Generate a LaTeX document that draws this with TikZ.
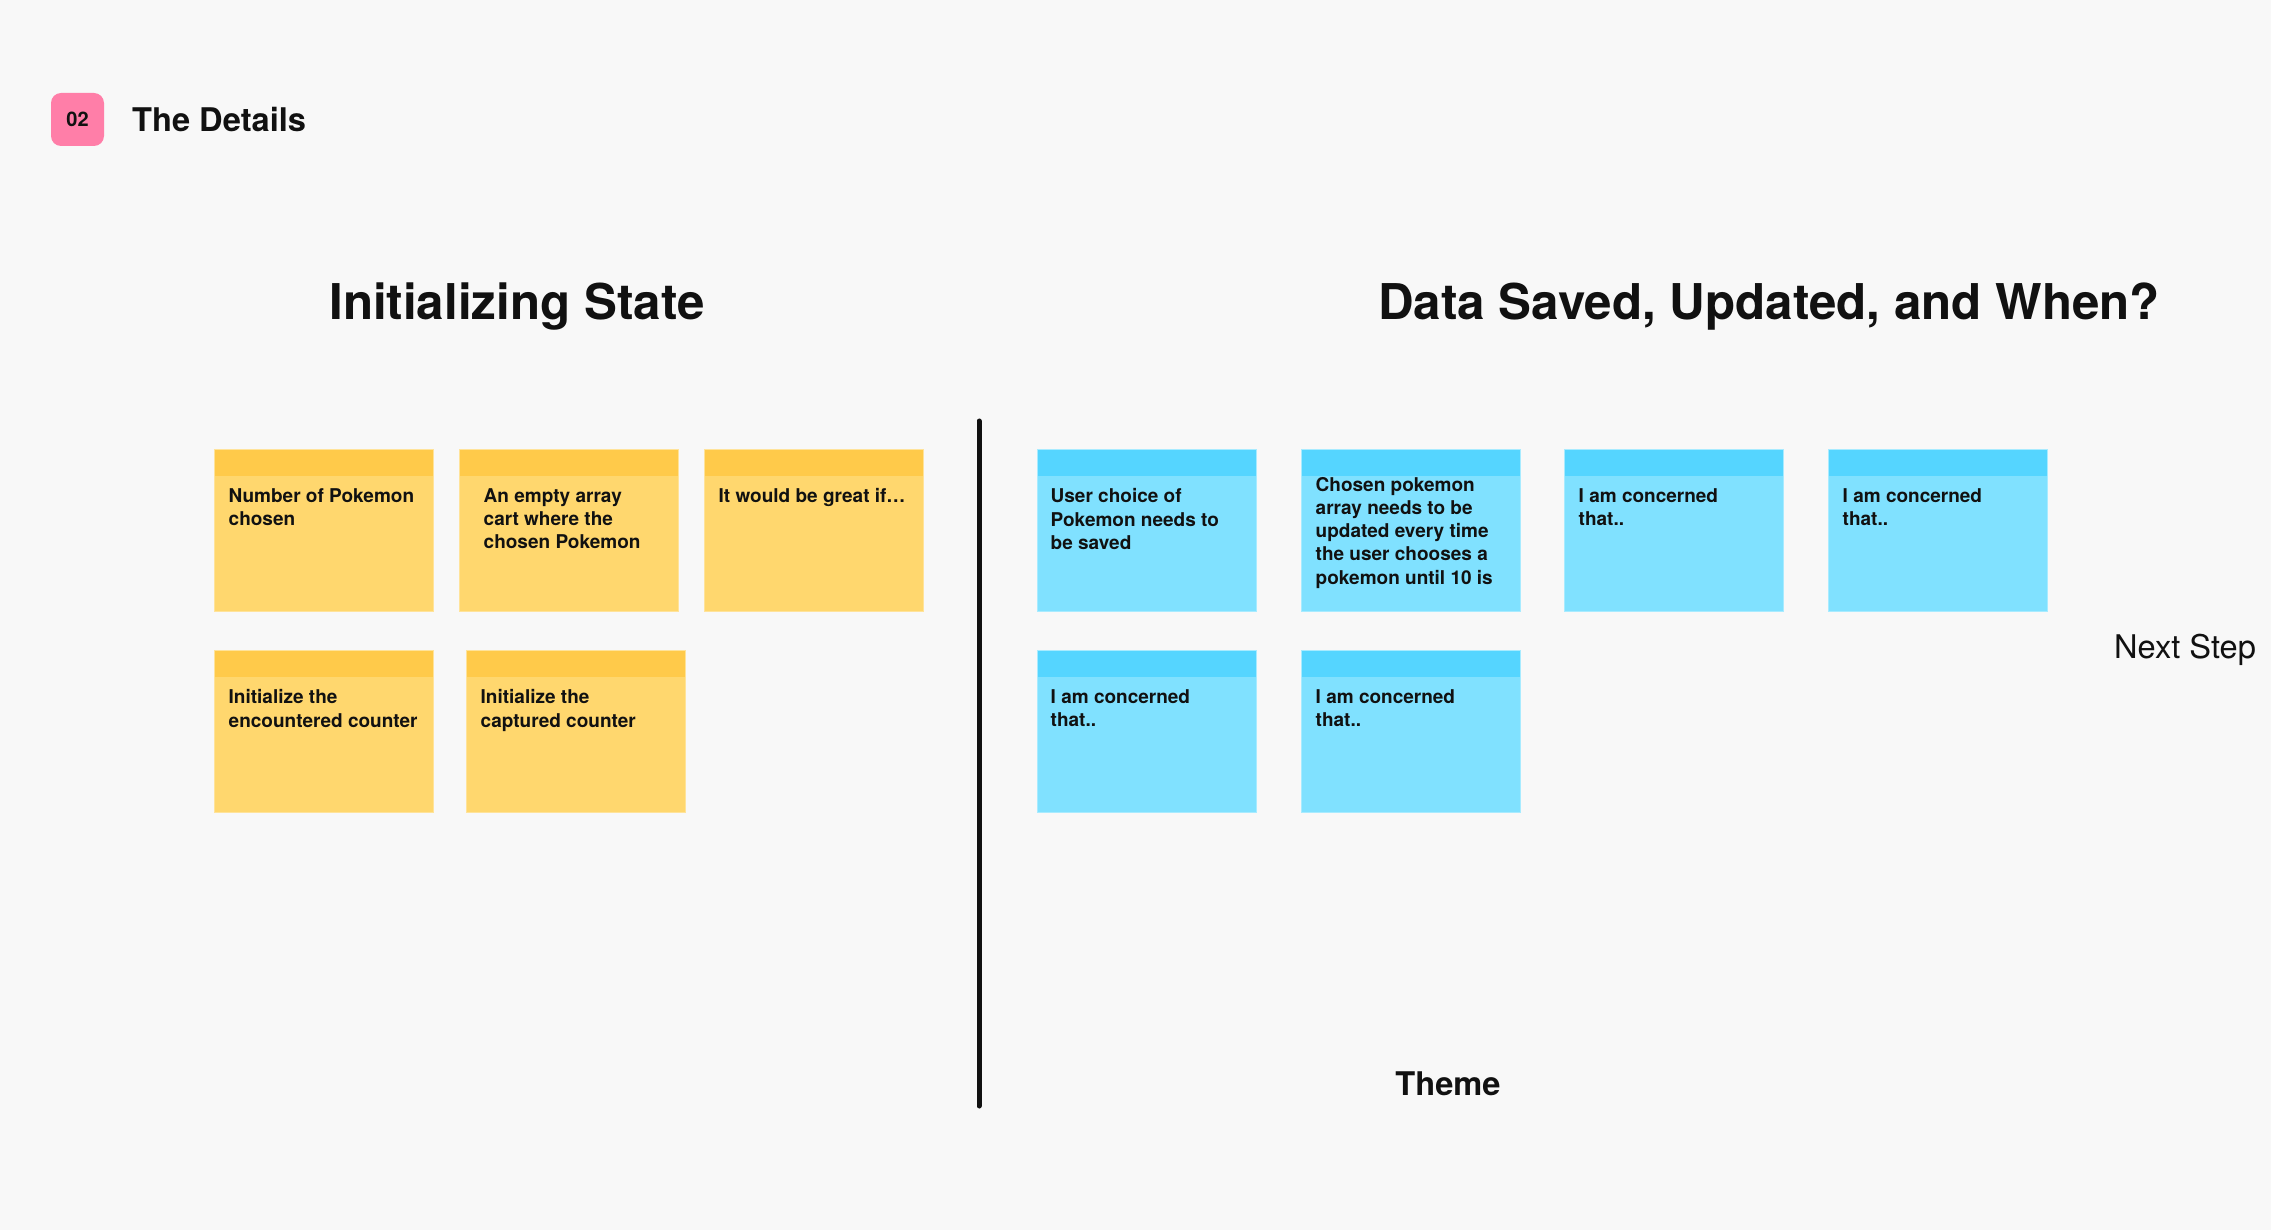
\documentclass[tikz,border=0pt]{standalone}
\usepackage{fontspec}
\setmainfont{TeX Gyre Heros}
\definecolor{bg}{HTML}{F8F8F8}
\definecolor{ink}{HTML}{111111}
\definecolor{pinkbadge}{HTML}{FF7EA8}
\definecolor{yhead}{HTML}{FFCA4A}
\definecolor{ybody}{HTML}{FFD76E}
\definecolor{yedge}{HTML}{FFE39A}
\definecolor{bhead}{HTML}{55D5FF}
\definecolor{bbody}{HTML}{80E1FF}
\definecolor{bedge}{HTML}{A8EBFF}
\newcommand{\stickyfont}{\fontsize{19}{23.2}\selectfont\bfseries}
\tikzset{
  stickybase/.style={rectangle, anchor=north west, inner sep=0pt, minimum width=219pt, minimum height=162pt, line width=1pt},
  ystick/.style={stickybase, fill=ybody, draw=yedge,
    path picture={\fill[yhead] (path picture bounding box.north west) rectangle ([yshift=-26pt]path picture bounding box.north east);}},
  bstick/.style={stickybase, fill=bbody, draw=bedge,
    path picture={\fill[bhead] (path picture bounding box.north west) rectangle ([yshift=-26pt]path picture bounding box.north east);}},
  stext/.style={anchor=north west, align=left, inner sep=0pt, font=\stickyfont, text=ink},
  heading/.style={inner sep=0pt, text=ink, font=\fontsize{49.3}{59}\selectfont\bfseries},
}
\begin{document}
\begin{tikzpicture}[x=1pt, y=-1pt]
\useasboundingbox[fill=bg] (0,0) rectangle (2271,1230);

% badge and title
\node[rectangle, rounded corners=10pt, fill=pinkbadge, minimum width=53pt, minimum height=53pt, inner sep=0pt,
      font=\fontsize{20}{24}\selectfont\bfseries, text=ink] (badge) at (77.5,119.5) {02};
\node[anchor=west, inner sep=0pt, text=ink, font=\fontsize{32.6}{38}\selectfont\bfseries] (title) at (132,119.5) {The Details};

% section headings
\node[heading] (h1) at (517,307) {Initializing State};
\node[heading] (h2) at (1769,307) {Data Saved, Updated, and When?};

% divider
\coordinate (vtop) at (979,421);
\coordinate (vbot) at (979,1106);
\draw[ink, line width=5pt, line cap=round] (vtop) -- (vbot);

% yellow stickies
\node[ystick] (y1) at (214,449) {};
\node[ystick] (y2) at (459,449) {};
\node[ystick] (y3) at (704,449) {};
\node[ystick] (y4) at (214,650) {};
\node[ystick] (y5) at (466,650) {};

\node[stext] (ty1) at ([xshift=14.5pt,yshift=-39.5pt]y1.north west) {Number of Pokemon\\chosen};
\node[stext] (ty2) at ([xshift=24.5pt,yshift=-39.5pt]y2.north west) {An empty array\\cart where the\\chosen Pokemon};
\node[stext] (ty3) at ([xshift=14.5pt,yshift=-39.5pt]y3.north west) {It would be great if\dots};
\node[stext] (ty4) at ([xshift=14.5pt,yshift=-39.5pt]y4.north west) {Initialize the\\encountered counter};
\node[stext] (ty5) at ([xshift=14.5pt,yshift=-39.5pt]y5.north west) {Initialize the\\captured counter};

% blue stickies
\node[bstick] (b1) at (1037,449) {};
\node[bstick] (b2) at (1301,449) {};
\node[bstick] (b3) at (1564,449) {};
\node[bstick] (b4) at (1828,449) {};
\node[bstick] (b5) at (1037,650) {};
\node[bstick] (b6) at (1301,650) {};

\node[stext] (tb1) at ([xshift=13.5pt,yshift=-39.5pt]b1.north west) {User choice of\\Pokemon needs to\\be saved};
\node[stext] (tb2) at ([xshift=14.5pt,yshift=-28pt]b2.north west) {Chosen pokemon\\array needs to be\\updated every time\\the user chooses a\\pokemon until 10 is};
\node[stext] (tb3) at ([xshift=14.5pt,yshift=-39.5pt]b3.north west) {I am concerned\\that..};
\node[stext] (tb4) at ([xshift=14.5pt,yshift=-39.5pt]b4.north west) {I am concerned\\that..};
\node[stext] (tb5) at ([xshift=13.5pt,yshift=-39.5pt]b5.north west) {I am concerned\\that..};
\node[stext] (tb6) at ([xshift=14.5pt,yshift=-39.5pt]b6.north west) {I am concerned\\that..};

% side labels
\node[inner sep=0pt, text=ink, font=\fontsize{32.6}{38}\selectfont] (next) at (2185,650) {Next Step};
\node[inner sep=0pt, text=ink, font=\fontsize{32.6}{38}\selectfont\bfseries] (theme) at (1448,1084) {Theme};
\end{tikzpicture}
\end{document}
